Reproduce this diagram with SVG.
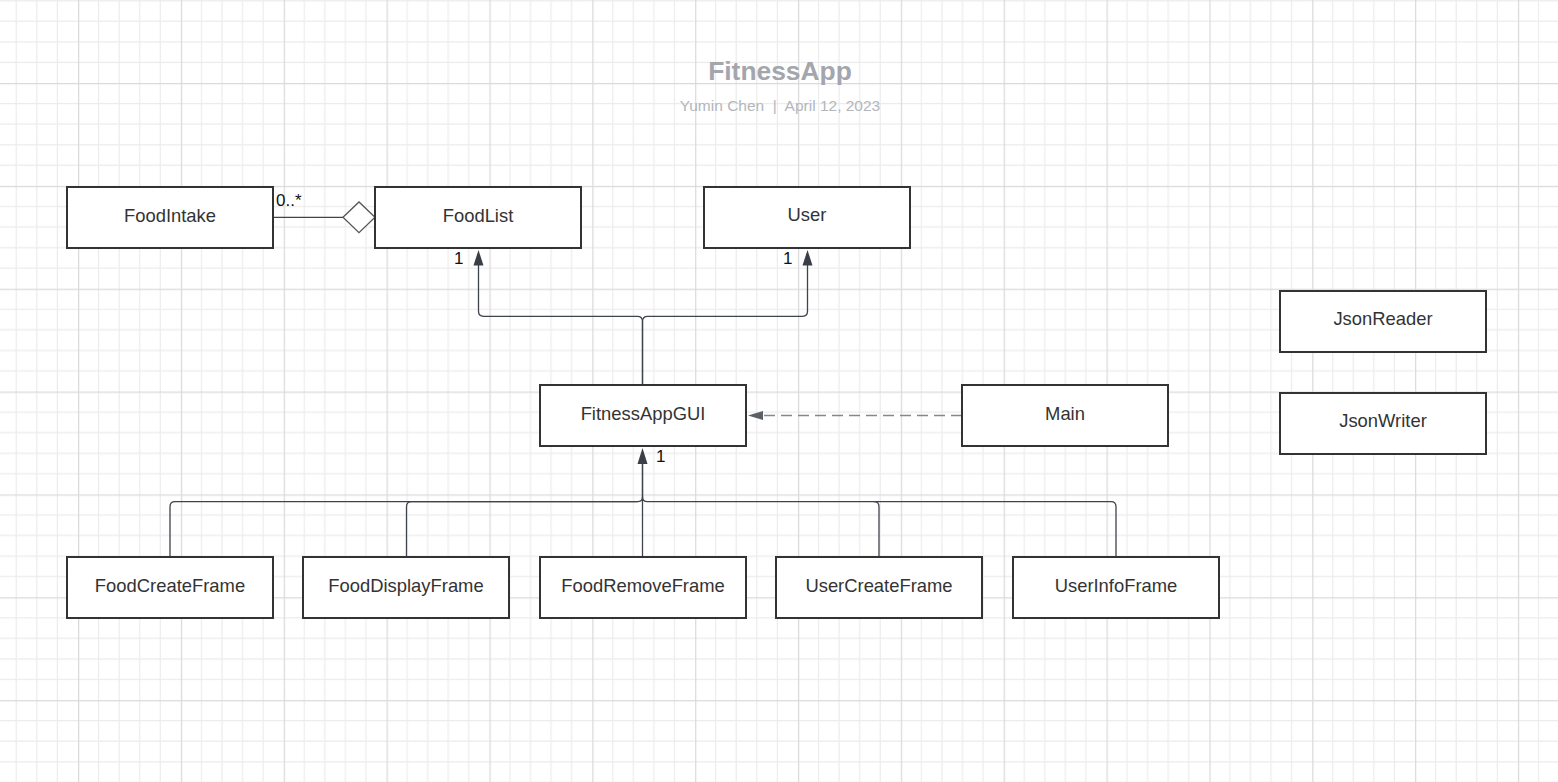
<svg xmlns="http://www.w3.org/2000/svg" width="1558" height="782" viewBox="0 0 1558 782">
<defs>
<pattern id="grid" patternUnits="userSpaceOnUse" x="78" y="83" width="102.85" height="102.85">
<path d="M20.57,0V102.85M41.14,0V102.85M61.71,0V102.85M82.28,0V102.85M0,20.57H102.85M0,41.14H102.85M0,61.71H102.85M0,82.28H102.85" stroke="#ececec" stroke-width="1.2" fill="none"/>
<path d="M0.6,0V102.85M0,0.6H102.85" stroke="#dadada" stroke-width="1.3" fill="none"/>
</pattern>
</defs>
<style>
.box{fill:#fff;stroke:#333;stroke-width:2}
.lbl{font-family:"Liberation Sans",Arial,sans-serif;font-size:18.4px;fill:#333;text-anchor:middle}
.conn{fill:none;stroke:#3f434b;stroke-width:1.3}
.mult{font-family:"Liberation Sans",Arial,sans-serif;font-size:17px;fill:#111}
.arrow{fill:#3a3e46}
</style>
<rect width="1558" height="782" fill="#fff"/>
<rect width="1558" height="782" fill="url(#grid)"/>
<g id="title">
<text x="780" y="80" font-family="'Liberation Sans',Arial,sans-serif" font-size="26.4" font-weight="bold" fill="#a3a6ad" text-anchor="middle">FitnessApp</text>
<text x="780" y="111" font-family="'Liberation Sans',Arial,sans-serif" font-size="15.5" fill="#b3b6bc" text-anchor="middle" xml:space="preserve">Yumin Chen  |  April 12, 2023</text>
</g>
<g id="connectors">
<line x1="273" y1="217.3" x2="343" y2="217.3" stroke="#444" stroke-width="1.3"/>
<path d="M343,217.3 L359,202 L375,217.3 L359,232.6 Z" fill="#fff" stroke="#555" stroke-width="1.3"/>
<path class="conn" d="M642.5,385 V321.5 Q642.5,316.3 637.5,316.3 H483.5 Q478.5,316.3 478.5,311.3 V264"/>
<path class="arrow" d="M478.5,250 L483.5,265.5 L473.5,265.5 Z"/>
<path class="conn" d="M642.5,385 V321.5 Q642.5,316.3 647.5,316.3 H802.5 Q807.5,316.3 807.5,311.3 V264"/>
<path class="arrow" d="M807.5,250 L812.5,265.5 L802.5,265.5 Z"/>
<line x1="962" y1="415.5" x2="762" y2="415.5" stroke="#85878b" stroke-width="1.7" stroke-dasharray="11,6"/>
<path d="M748,415.5 L763,411 L763,420 Z" fill="#5c5f64"/>
<path class="conn" d="M170,557 V506.7 Q170,501.7 175,501.7 H637.5 Q642.5,501.7 642.5,496.7 V462"/>
<path class="conn" d="M406.5,557 V506.7 Q406.5,501.7 411.5,501.7 H637.5"/>
<path class="conn" d="M642.5,557 V462"/>
<path class="conn" d="M879,557 V506.7 Q879,501.7 874,501.7 H647.5 Q642.5,501.7 642.5,496.7"/>
<path class="conn" d="M1116,557 V506.7 Q1116,501.7 1111,501.7 H874"/>
<path class="arrow" d="M642.5,448 L647.5,464 L637.5,464 Z"/>
<text class="mult" x="276" y="206">0..*</text>
<text class="mult" x="454" y="264">1</text>
<text class="mult" x="783" y="264">1</text>
<text class="mult" x="656" y="462">1</text>
</g>
<g id="FoodIntake"><rect class="box" x="67" y="187" width="206" height="61"/><text class="lbl" x="170" y="222">FoodIntake</text></g>
<g id="FoodList"><rect class="box" x="375" y="187" width="206" height="61"/><text class="lbl" x="478" y="222">FoodList</text></g>
<g id="User"><rect class="box" x="704" y="187" width="206" height="61"/><text class="lbl" x="807" y="221">User</text></g>
<g id="JsonReader"><rect class="box" x="1280" y="291" width="206" height="61"/><text class="lbl" x="1383" y="325">JsonReader</text></g>
<g id="JsonWriter"><rect class="box" x="1280" y="393" width="206" height="61"/><text class="lbl" x="1383" y="427">JsonWriter</text></g>
<g id="FitnessAppGUI"><rect class="box" x="540" y="385" width="206" height="61"/><text class="lbl" x="643" y="420">FitnessAppGUI</text></g>
<g id="Main"><rect class="box" x="962" y="385" width="206" height="61"/><text class="lbl" x="1065" y="420">Main</text></g>
<g id="FoodCreateFrame"><rect class="box" x="67" y="557" width="206" height="61"/><text class="lbl" x="170" y="592">FoodCreateFrame</text></g>
<g id="FoodDisplayFrame"><rect class="box" x="303" y="557" width="206" height="61"/><text class="lbl" x="406" y="592">FoodDisplayFrame</text></g>
<g id="FoodRemoveFrame"><rect class="box" x="540" y="557" width="206" height="61"/><text class="lbl" x="643" y="592">FoodRemoveFrame</text></g>
<g id="UserCreateFrame"><rect class="box" x="776" y="557" width="206" height="61"/><text class="lbl" x="879" y="592">UserCreateFrame</text></g>
<g id="UserInfoFrame"><rect class="box" x="1013" y="557" width="206" height="61"/><text class="lbl" x="1116" y="592">UserInfoFrame</text></g>
</svg>
